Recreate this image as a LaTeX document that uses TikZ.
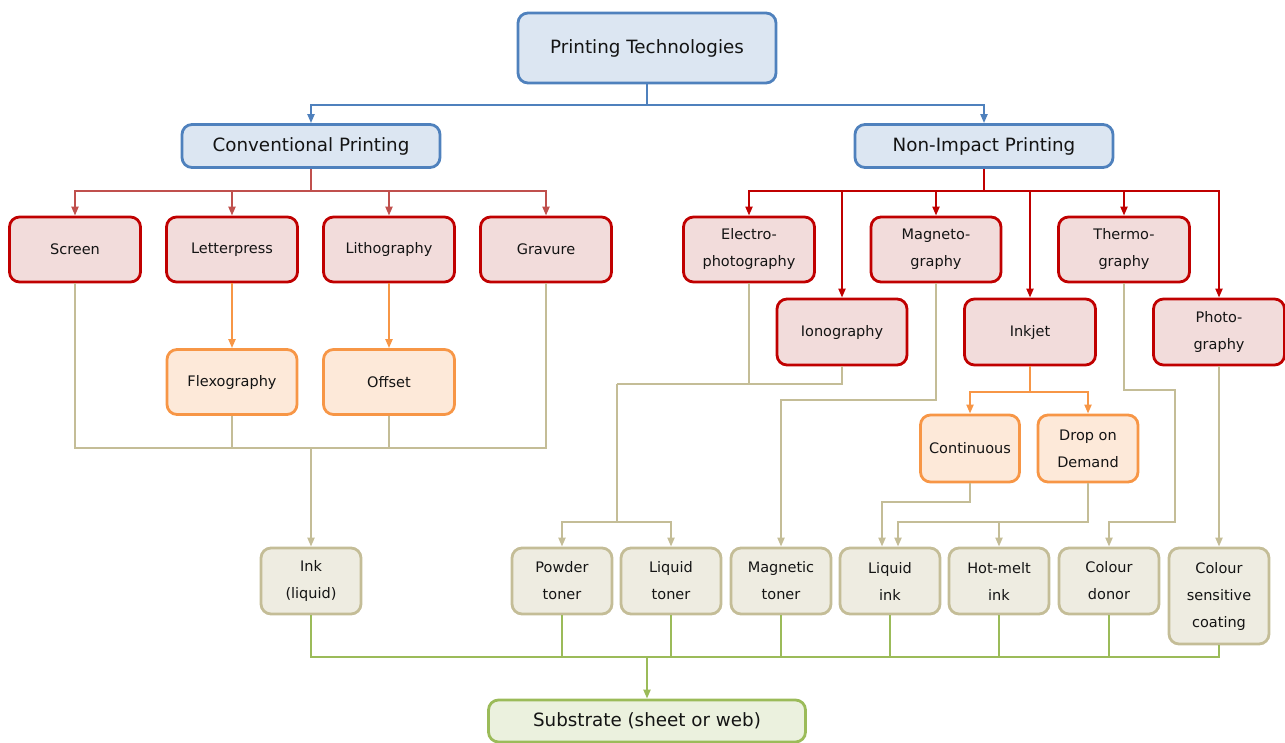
\documentclass[tikz,border=0pt]{standalone}
\usepackage{fontspec}
\setmainfont{DejaVu Sans}
\usetikzlibrary{arrows.meta,calc}
\definecolor{bdraw}{HTML}{4F81BD}
\definecolor{bfill}{HTML}{DCE6F2}
\definecolor{rdraw}{HTML}{C00000}
\definecolor{rfill}{HTML}{F2DCDB}
\definecolor{rline}{HTML}{C0504D}
\definecolor{odraw}{HTML}{F79646}
\definecolor{ofill}{HTML}{FDE9D9}
\definecolor{tdraw}{HTML}{C4BD97}
\definecolor{tfill}{HTML}{EEECE1}
\definecolor{gdraw}{HTML}{9BBB59}
\definecolor{gfill}{HTML}{EBF1DE}
\definecolor{txt}{HTML}{141414}
\tikzset{
  base/.style={rounded corners=10pt, line width=2.8pt, inner sep=0pt, align=center, text=txt},
  bigbox/.style={base, draw=bdraw, fill=bfill, minimum width=258pt, minimum height=43pt, font=\fontsize{18.3}{22}\selectfont},
  redbox/.style={base, draw=rdraw, fill=rfill, minimum width=131pt, minimum height=65pt, font=\fontsize{14.5}{27}\selectfont},
  orbox/.style={base, draw=odraw, fill=ofill, minimum width=131pt, minimum height=65pt, font=\fontsize{14.5}{27}\selectfont},
  orsmall/.style={orbox, minimum width=100pt, minimum height=67pt},
  tanbox/.style={base, draw=tdraw, fill=tfill, minimum width=100pt, minimum height=66pt, font=\fontsize{14.5}{27}\selectfont},
  grbox/.style={base, draw=gdraw, fill=gfill, minimum width=317pt, minimum height=42pt, font=\fontsize{18.3}{22}\selectfont},
  conn/.style={line width=2pt, rounded corners=0pt},
  tip/.style={-{Triangle[length=9pt,width=7pt]}},
  bline/.style={conn, draw=bdraw},
  rcline/.style={conn, draw=rline},
  rnline/.style={conn, draw=rdraw},
  oline/.style={conn, draw=odraw},
  tline/.style={conn, draw=tdraw},
  gline/.style={conn, draw=gdraw},
}
\begin{document}
\begin{tikzpicture}[x=1pt,y=-1pt]
\useasboundingbox (0,0) rectangle (1285,743);
% top
\node[bigbox, minimum height=70pt] (pt) at (647,48) {Printing Technologies};
\node[bigbox] (cp) at (311,146) {Conventional Printing};
\node[bigbox] (nip) at (984,146) {Non-Impact Printing};
% conventional
\node[redbox] (screen) at (75,249.5) {Screen};
\node[redbox] (letter) at (232,249.5) {Letterpress};
\node[redbox] (litho) at (389,249.5) {Lithography};
\node[redbox] (grav) at (546,249.5) {Gravure};
\node[orbox, minimum width=130pt] (flexo) at (232,382) {Flexography};
\node[orbox] (offset) at (389,382) {Offset};
% non-impact
\node[redbox] (electro) at (749,249.5) {Electro-\\photography};
\node[redbox, minimum width=130pt] (magneto) at (936,249.5) {Magneto-\\graphy};
\node[redbox] (thermo) at (1124,249.5) {Thermo-\\graphy};
\node[redbox, minimum width=130pt, minimum height=66pt] (iono) at (842,332) {Ionography};
\node[redbox, minimum height=66pt] (inkjet) at (1030,332) {Inkjet};
\node[redbox, minimum height=66pt] (photo) at (1219,332) {Photo-\\graphy};
\node[orsmall, minimum width=99pt] (cont) at (970,448.5) {Continuous};
\node[orsmall] (dod) at (1088,448.5) {Drop on\\Demand};
% materials
\node[tanbox] (ink) at (311,581) {Ink\\(liquid)};
\node[tanbox] (powder) at (562,581) {Powder\\toner};
\node[tanbox] (liqtoner) at (671,581) {Liquid\\toner};
\node[tanbox] (magtoner) at (781,581) {Magnetic\\toner};
\node[tanbox] (liqink) at (890,581) {Liquid\\ink};
\node[tanbox] (hotmelt) at (999,581) {Hot-melt\\ink};
\node[tanbox] (donor) at (1109,581) {Colour\\donor};
\node[tanbox, minimum height=96pt] (coating) at (1219,596) {Colour\\sensitive\\coating};
\node[grbox] (sub) at (647,721) {Substrate (sheet or web)};
% junctions
\coordinate (jb) at (647,105);
\coordinate (jc) at (311,191);
\coordinate (jn) at (984,191);
\coordinate (jink) at (311,448);
\coordinate (je) at (617,384);
\coordinate (je2) at (617,522);
\coordinate (jm) at (781,400);
\coordinate (ji) at (1030,392);
\coordinate (jcont) at (882,502);
\coordinate (jdod) at (898,522);
\coordinate (jt1) at (1175,390);
\coordinate (jt2) at (1175,522);
\coordinate (jg) at (647,657);
% blue
\draw[bline] (pt.south) -- (jb);
\draw[bline,tip] (jb) -| (cp.north);
\draw[bline,tip] (jb) -| (nip.north);
% conventional red
\draw[rcline] (cp.south) -- (jc);
\foreach \n in {screen,letter,litho,grav} \draw[rcline,tip] (jc) -| (\n.north);
% non-impact red
\draw[rnline] (nip.south) -- (jn);
\foreach \n in {electro,iono,magneto,inkjet,thermo,photo} \draw[rnline,tip] (jn) -| (\n.north);
% orange
\draw[oline,tip] (letter.south) -- (flexo.north);
\draw[oline,tip] (litho.south) -- (offset.north);
\draw[oline] (inkjet.south) -- (ji);
\draw[oline,tip] (ji) -| (cont.north);
\draw[oline,tip] (ji) -| (dod.north);
% tan, conventional
\foreach \n in {screen,flexo,offset,grav} \draw[tline] (\n.south) |- (jink);
\draw[tline,tip] (jink) -- (ink.north);
% tan, non-impact
\draw[tline] (electro.south) |- (je);
\draw[tline] (iono.south) |- (je);
\draw[tline] (je) -- (je2);
\draw[tline,tip] (je2) -| (powder.north);
\draw[tline,tip] (je2) -| (liqtoner.north);
\draw[tline,tip] (magneto.south) |- (jm) -- (magtoner.north);
\draw[tline,tip] (cont.south) |- (jcont) -- (jcont |- liqink.north);
\draw[tline,tip] (dod.south) |- (jdod) -- (jdod |- liqink.north);
\draw[tline,tip] (dod.south) |- (hotmelt.north |- jdod) -- (hotmelt.north);
\draw[tline,tip] (thermo.south) |- (jt1) -- (jt2) -| (donor.north);
\draw[tline,tip] (photo.south) -- (coating.north);
% green
\foreach \n in {ink,powder,liqtoner,magtoner,liqink,hotmelt,donor,coating} \draw[gline] (\n.south) |- (jg);
\draw[gline,tip] (jg) -- (sub.north);
\end{tikzpicture}
\end{document}
